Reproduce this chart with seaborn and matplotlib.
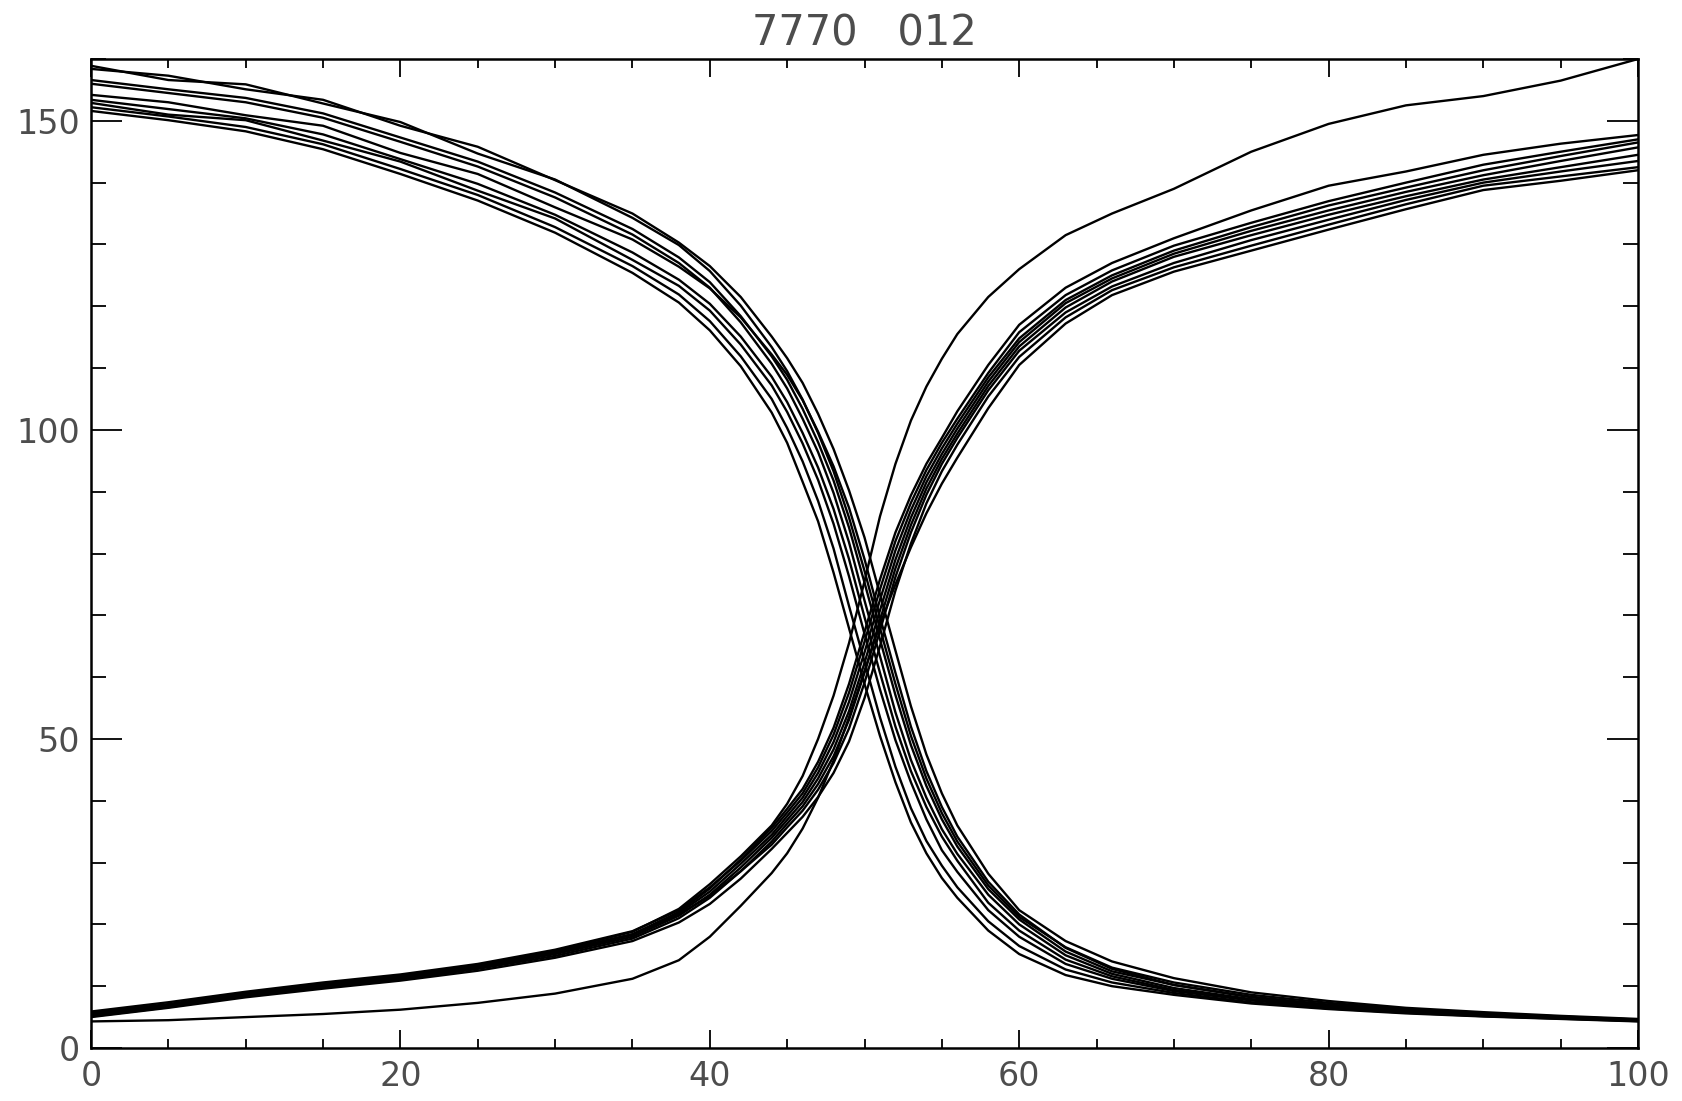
import matplotlib
matplotlib.use("Agg")
import pandas as pd
import seaborn as sns
import matplotlib.pyplot as plt
from matplotlib.ticker import MultipleLocator

# sample positions shared by all curves
x_pos = [0, 5, 10, 15, 20, 25, 30, 35, 38, 40, 42, 44, 45, 46, 47, 48, 49, 50,
         51, 52, 53, 54, 55, 56, 58, 60, 63, 66, 70, 75, 80, 85, 90, 95, 100]

# falling curves
dec_1 = [158.4, 157.3, 155.1, 153.4, 149.2, 145.8, 140.4, 135.0, 130.3, 126.5, 121.5, 115.1, 111.6, 107.6, 102.6, 96.9, 90.2, 82.6,
         73.4, 64.3, 55.3, 47.5, 41.2, 36.0, 28.2, 22.3, 17.3, 14.0, 11.3, 9.0, 7.6, 6.5, 5.8, 5.2, 4.7]
dec_2 = [158.9, 156.6, 155.9, 152.8, 149.8, 144.7, 140.5, 134.3, 129.9, 125.7, 120.1, 113.4, 109.5, 104.9, 99.5, 93.3, 85.8, 77.2,
         67.9, 58.9, 50.5, 43.6, 38.0, 33.4, 26.3, 21.2, 16.3, 13.0, 10.6, 8.6, 7.3, 6.3, 5.6, 5.1, 4.6]
dec_3 = [156.6, 155.1, 153.7, 151.2, 147.3, 143.4, 138.4, 132.5, 127.9, 123.9, 118.4, 111.9, 108.1, 103.4, 98.0, 91.8, 84.2, 75.3,
         66.1, 57.1, 49.0, 42.4, 37.0, 32.6, 25.7, 20.8, 15.6, 12.4, 10.2, 8.2, 7.0, 6.1, 5.4, 5.0, 4.55]
dec_4 = [156.0, 154.5, 153.0, 150.5, 146.6, 142.6, 137.6, 131.6, 127.0, 123.0, 117.4, 110.7, 106.7, 101.8, 96.4, 89.8, 81.8, 72.4,
         63.4, 54.3, 46.6, 40.5, 35.4, 31.4, 24.8, 20.0, 15.0, 12.0, 9.7, 7.9, 6.8, 6.0, 5.3, 4.9, 4.5]
dec_5 = [154.2, 153.0, 150.9, 149.2, 144.8, 141.4, 136.0, 130.8, 126.4, 122.9, 118.2, 112.2, 108.9, 104.8, 99.7, 94.1, 87.4, 79.1,
         69.7, 60.7, 52.0, 44.8, 39.0, 34.2, 26.9, 21.6, 16.2, 12.8, 10.2, 8.3, 7.0, 6.1, 5.5, 5.0, 4.6]
dec_6 = [153.4, 151.9, 150.4, 147.8, 143.8, 139.8, 134.8, 128.7, 124.3, 120.4, 115.1, 108.6, 104.5, 99.5, 93.9, 87.2, 79.1, 69.7,
         60.7, 52.0, 44.8, 39.0, 34.2, 30.3, 23.5, 19.0, 14.3, 11.6, 9.4, 7.8, 6.7, 5.9, 5.3, 4.9, 4.45]
dec_7 = [152.9, 151.0, 150.1, 146.8, 143.4, 138.7, 134.2, 127.5, 123.3, 119.3, 113.8, 107.2, 102.9, 97.8, 91.9, 84.8, 76.3, 67.0,
         58.0, 49.8, 43.0, 37.0, 32.0, 28.5, 22.3, 18.0, 13.6, 11.2, 9.2, 7.7, 6.55, 5.8, 5.2, 4.8, 4.4]
dec_8 = [152.2, 150.7, 149.0, 146.2, 142.2, 138.0, 132.8, 126.5, 121.9, 117.6, 111.9, 105.0, 100.3, 94.9, 88.5, 80.8, 71.5, 62.5,
         53.5, 45.5, 38.8, 33.5, 29.5, 26.0, 20.5, 16.5, 12.7, 10.6, 8.9, 7.4, 6.4, 5.7, 5.15, 4.75, 4.35]
dec_9 = [151.6, 150.1, 148.3, 145.4, 141.4, 137.1, 131.9, 125.4, 120.6, 116.1, 110.3, 102.8, 97.9, 91.6, 85.2, 76.9, 67.9, 58.9,
         50.5, 43.0, 36.5, 31.5, 27.5, 24.3, 19.0, 15.2, 11.8, 10.0, 8.6, 7.2, 6.3, 5.6, 5.1, 4.7, 4.3]

# rising curves
inc_1 = [5.6, 7.0, 8.9, 10.3, 11.7, 13.4, 15.7, 18.8, 22.5, 26.5, 31.0, 36.0, 39.5, 44.0, 50.0, 57.0, 65.5, 75.5,
         86.0, 94.5, 101.5, 107.0, 111.5, 115.5, 121.5, 126.0, 131.5, 135.0, 139.0, 145.0, 149.5, 152.5, 154.0, 156.5, 160.0]
inc_2 = [5.4, 6.9, 8.7, 10.1, 11.5, 13.2, 15.5, 18.4, 22.0, 25.8, 30.5, 35.6, 38.7, 41.9, 46.3, 51.8, 58.9, 67.3,
         75.8, 83.4, 89.4, 94.5, 98.7, 103.0, 110.5, 117.0, 123.0, 127.0, 131.0, 135.5, 139.5, 141.8, 144.5, 146.3, 147.7]
inc_3 = [5.9, 7.4, 9.1, 10.6, 11.9, 13.6, 15.9, 18.9, 22.3, 26.0, 30.3, 35.1, 38.1, 41.2, 45.4, 50.7, 57.5, 65.7,
         74.2, 82.0, 88.2, 93.5, 97.9, 101.8, 109.2, 115.8, 121.8, 125.8, 129.8, 133.5, 137.0, 140.0, 142.9, 145.0, 147.0]
inc_4 = [5.5, 7.0, 8.8, 10.2, 11.5, 13.2, 15.4, 18.3, 21.8, 25.3, 29.8, 34.5, 37.5, 40.5, 44.5, 49.5, 56.0, 64.0,
         72.5, 80.5, 87.0, 92.5, 97.0, 101.0, 108.5, 114.8, 121.0, 125.0, 129.0, 132.8, 136.3, 139.2, 142.0, 144.3, 146.5]
inc_5 = [5.3, 6.8, 8.6, 10.0, 11.3, 13.0, 15.2, 18.0, 21.4, 24.8, 29.2, 34.0, 36.9, 39.8, 43.6, 48.3, 54.5, 62.3,
         70.8, 79.0, 85.8, 91.5, 96.1, 100.2, 107.8, 114.2, 120.5, 124.5, 128.5, 132.2, 135.5, 138.5, 141.2, 143.5, 145.7]
inc_6 = [5.1, 6.6, 8.4, 9.8, 11.1, 12.8, 14.9, 17.7, 21.0, 24.3, 28.6, 33.4, 36.3, 39.1, 42.7, 47.2, 53.1, 60.7,
         69.2, 77.6, 84.6, 90.5, 95.3, 99.4, 107.1, 113.5, 119.8, 124.0, 128.0, 131.5, 134.8, 137.8, 140.5, 142.5, 144.5]
inc_7 = [5.7, 7.1, 8.9, 10.3, 11.6, 13.3, 15.5, 18.4, 21.6, 24.6, 28.6, 32.9, 35.7, 38.4, 41.8, 46.1, 51.7, 59.1,
         67.5, 76.2, 83.4, 89.5, 94.5, 98.7, 106.4, 112.8, 119.0, 123.2, 127.0, 130.7, 134.0, 137.2, 140.0, 141.8, 143.5]
inc_8 = [5.0, 6.5, 8.2, 9.6, 10.9, 12.5, 14.6, 17.3, 20.3, 23.3, 27.4, 32.2, 34.8, 37.4, 40.6, 44.5, 49.6, 56.6,
         65.0, 74.0, 81.6, 88.1, 93.3, 97.6, 105.4, 111.8, 118.2, 122.6, 126.3, 129.8, 133.2, 136.5, 139.5, 141.0, 142.5]
inc_9 = [4.3, 4.5, 5.0, 5.5, 6.2, 7.3, 8.8, 11.2, 14.2, 18.0, 23.0, 28.3, 31.5, 35.5, 40.5, 46.5, 53.5, 61.0,
         68.5, 75.0, 81.0, 86.5, 91.3, 95.5, 103.5, 110.5, 117.2, 121.8, 125.6, 129.0, 132.4, 135.7, 138.8, 140.3, 142.0]

title = "7770   012"

curves = {"dec_1": dec_1, "dec_2": dec_2, "dec_3": dec_3, "dec_4": dec_4, "dec_5": dec_5,
          "dec_6": dec_6, "dec_7": dec_7, "dec_8": dec_8, "dec_9": dec_9,
          "inc_1": inc_1, "inc_2": inc_2, "inc_3": inc_3, "inc_4": inc_4, "inc_5": inc_5,
          "inc_6": inc_6, "inc_7": inc_7, "inc_8": inc_8, "inc_9": inc_9}

rows = []
for name, ys in curves.items():
    assert len(ys) == len(x_pos), name
    for x, y in zip(x_pos, ys):
        rows.append((name, x, y))
df = pd.DataFrame(rows, columns=["curve", "x", "y"])

sns.set_theme(style="white")
plt.rcParams["font.family"] = ["DejaVu Sans"]

fig, ax = plt.subplots(figsize=(16.82, 11.01), dpi=100)
fig.subplots_adjust(left=91/1682, right=1638/1682, bottom=1-1048/1101, top=1-59/1101)

sns.lineplot(data=df, x="x", y="y", units="curve", estimator=None, sort=False,
             color="black", lw=1.7, ax=ax, legend=False)

ax.set_xlim(0, 100)
ax.set_ylim(0, 160)
ax.xaxis.set_major_locator(MultipleLocator(20))
ax.xaxis.set_minor_locator(MultipleLocator(5))
ax.yaxis.set_major_locator(MultipleLocator(50))
ax.yaxis.set_minor_locator(MultipleLocator(10))

ax.tick_params(which="both", direction="in", top=True, right=True, bottom=True, left=True,
               color="black", width=1.3, labelsize=24, labelcolor="#4d4d4d")
ax.tick_params(axis="x", which="major", length=13, pad=9)
ax.tick_params(axis="x", which="minor", length=6.5)
ax.tick_params(axis="y", which="major", length=22, pad=8)
ax.tick_params(axis="y", which="minor", length=11)
for s in ax.spines.values():
    s.set_color("black")
    s.set_linewidth(1.8)

ax.set_xlabel("")
ax.set_ylabel("")
ax.set_title(title, fontsize=30, color="#4d4d4d", pad=10)

fig.savefig("out.png", dpi=100)
